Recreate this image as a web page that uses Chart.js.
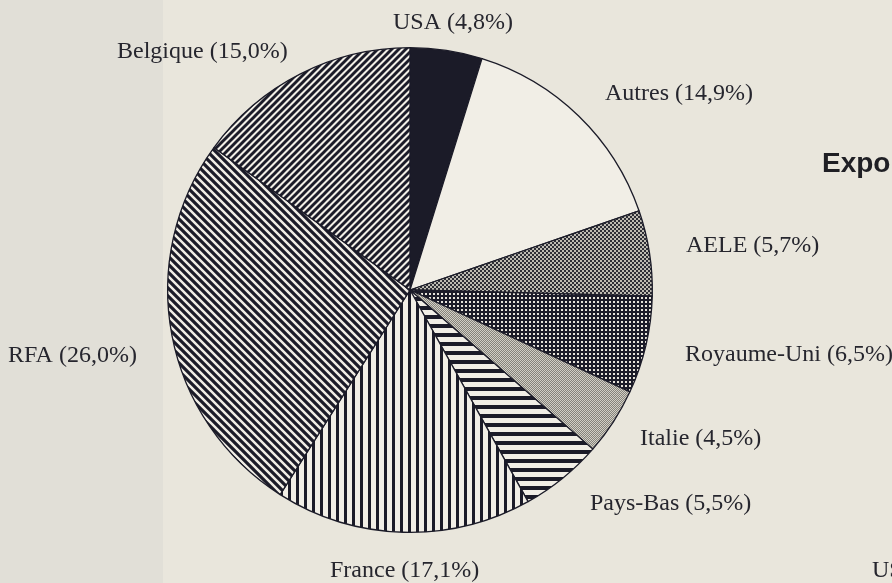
<!DOCTYPE html>
<html>
<head>
<meta charset="utf-8">
<script src="https://cdn.jsdelivr.net/npm/chart.js@4/dist/chart.umd.min.js"></script>
<style>
  html, body { margin: 0; padding: 0; background: #e9e6dc; }
  #wrap { width: 892px; height: 583px; }
</style>
</head>
<body>
<div id="wrap"><canvas id="pie" width="892" height="583"></canvas></div>
<script>
// Export shares, clockwise from 12 o'clock
var countries = ['USA', 'Autres', 'AELE', 'Royaume-Uni', 'Italie', 'Pays-Bas', 'France', 'RFA', 'Belgique'];
var shares = [4.8, 14.9, 5.7, 6.5, 4.5, 5.5, 17.1, 26.0, 15.0];

// where each caption sits (left x, baseline y), same order as countries
var captionAt = [
    [393, 29], [605, 100], [686, 252], [685, 361], [640, 445],
    [590, 510], [330, 577], [8, 362], [117, 58]
];

(function () {
    var ink = '#1b1b28';
    var paper = '#f1eee6';

    function tile(w, h, paint) {
        var c = document.createElement('canvas');
        c.width = w; c.height = h;
        var g = c.getContext('2d');
        paint(g, w, h);
        return document.createElement('canvas').getContext('2d').createPattern(c, 'repeat');
    }

    function stripes(w, h, dark, vertical) {
        return tile(w, h, function (g) {
            g.fillStyle = paper; g.fillRect(0, 0, w, h);
            g.fillStyle = ink;
            if (vertical) g.fillRect(0, 0, dark, h);
            else g.fillRect(0, 0, w, dark);
        });
    }

    function diagonal(p, lw, rising) {
        return tile(p, p, function (g) {
            g.fillStyle = paper; g.fillRect(0, 0, p, p);
            g.strokeStyle = ink; g.lineWidth = lw;
            g.beginPath();
            if (rising) {
                g.moveTo(-p, p); g.lineTo(p, -p);
                g.moveTo(0, p); g.lineTo(p, 0);
                g.moveTo(0, 2 * p); g.lineTo(2 * p, 0);
            } else {
                g.moveTo(0, 0); g.lineTo(p, p);
                g.moveTo(-p, 0); g.lineTo(p, 2 * p);
                g.moveTo(0, -p); g.lineTo(2 * p, p);
            }
            g.stroke();
        });
    }

    function checker(size, a, b) {
        return tile(size * 2, size * 2, function (g) {
            g.fillStyle = a; g.fillRect(0, 0, size * 2, size * 2);
            g.fillStyle = b;
            g.fillRect(0, 0, size, size);
            g.fillRect(size, size, size, size);
        });
    }

    var dots = tile(4, 4, function (g) {
        g.fillStyle = ink; g.fillRect(0, 0, 4, 4);
        g.fillStyle = '#e6e3da'; g.fillRect(1, 1, 2, 2);
    });

    var fills = [
        ink,                                  // USA
        paper,                                // Autres
        checker(2, '#2e2e36', '#bebbb2'),     // AELE
        dots,                                 // Royaume-Uni
        checker(1, '#85837b', '#d2cfc5'),     // Italie
        stripes(9, 9, 4, false),              // Pays-Bas
        stripes(8, 8, 3, true),               // France
        diagonal(8, 3.2, false),              // RFA
        diagonal(7, 2.9, true)                // Belgique
    ];

    var page = {
        id: 'page',
        beforeDraw: function (chart) {
            var c = chart.ctx;
            c.save();
            c.fillStyle = '#e9e6dc';
            c.fillRect(0, 0, chart.width, chart.height);
            c.fillStyle = '#e1dfd7';
            c.fillRect(0, 0, 163, chart.height);
            c.restore();
        },
        afterDraw: function (chart) {
            var c = chart.ctx;
            c.save();
            c.fillStyle = '#26262e';
            c.textBaseline = 'alphabetic';
            c.textAlign = 'left';
            c.font = '24px "Liberation Serif", "Times New Roman", serif';
            countries.forEach(function (name, i) {
                var txt = name + ' (' + shares[i].toFixed(1).replace('.', ',') + '%)';
                c.fillText(txt, captionAt[i][0], captionAt[i][1]);
            });
            c.fillText('US', 872, 577);
            c.fillStyle = '#1f1f24';
            c.font = 'bold 28px "Liberation Sans", Arial, sans-serif';
            c.fillText('Expo', 822, 172);
            c.restore();
        }
    };

    new Chart(document.getElementById('pie'), {
        type: 'pie',
        data: {
            labels: countries,
            datasets: [{
                data: shares,
                backgroundColor: fills,
                borderColor: ink,
                borderWidth: 1.3
            }]
        },
        options: {
            responsive: false,
            devicePixelRatio: 1,
            animation: false,
            layout: { padding: { top: 47, bottom: 50, left: 167, right: 239 } },
            plugins: { legend: { display: false }, tooltip: { enabled: false } }
        },
        plugins: [page]
    });
})();
</script>
</body>
</html>
